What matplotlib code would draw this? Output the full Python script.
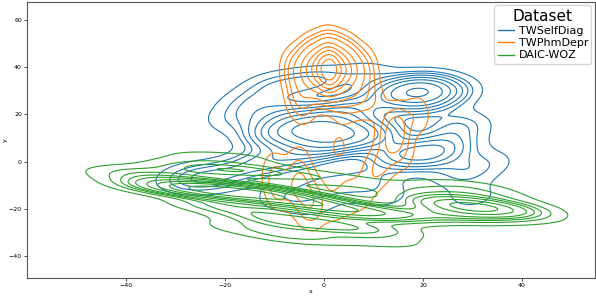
import matplotlib
matplotlib.use('Agg')
import matplotlib.pyplot as plt
import numpy as np
import pandas as pd
import seaborn as sns

# hand-placed sample points (x, y) and weights
selfdiag_x = [-10, -4, 3, 9, 0, 0, -8, 6,
              14, 19, 24, 19,
              15, 21, 25, 27, 28, 30, 33,
              -15, -10, -2, 8, -18,
              -28, -23, -17, -12, -6,
              -8, 0, 8, 12, -2]
selfdiag_y = [12, 13, 12, 11, 7, 18, 20, 22,
              29, 31, 29, 25,
              3, 3, 7, 15, -5, -15, 0,
              25, 32, 34, 37, 18,
              -7, -7, -4, 0, 2,
              -15, -10, -8, -15, -20]
selfdiag_w = [1.5, 3, 3, 2, 1.5, 1.5, 1, 1.2,
              1.2, 2, 1.2, 1,
              1.2, 1.5, 0.8, 0.8, 0.6, 0.4, 0.4,
              0.6, 0.7, 0.8, 0.5, 0.5,
              0.6, 0.8, 0.6, 0.8, 0.8,
              0.5, 0.6, 0.6, 0.4, 0.3]

phm_x = [1, -3, 5, 1, 1, -2, 4, -2, 4, -6, 8, -5, 7,
         15, 19, 14, 12, 8,
         -5, -9, -2, -4, 2, -10,
         -4, 4, 10, 13, 16, 10, 5, -2, -10, -5, 3]
phm_y = [39, 39, 39, 45, 33, 43, 43, 35, 35, 39, 39, 28, 28,
         16, 20, 8, 0, -14,
         -10, -13, -14, -20, -20, -2,
         24, 24, 26, 12, 4, -5, -15, -22, -8, 0, 6]
phm_w = [5, 1.2, 1.2, 1, 1, 0.8, 0.8, 0.8, 0.8, 0.5, 0.5, 0.4, 0.4,
         0.45, 0.25, 0.25, 0.25, 0.15,
         0.5, 0.25, 0.25, 0.2, 0.15, 0.15,
         0.22, 0.22, 0.22, 0.22, 0.2, 0.2, 0.2, 0.18, 0.18, 0.2, 0.15]

daic_x = [-32, -27, -22, -17, -12, -7, -2, 3, 8, 13,
          -20, -10, 0, 10, -5, 12, -15,
          -35, -25, -15, -5, 5, -25, -40, -15,
          25, 30, 34, 28, 38, 20, 20, 32, 40, 28]
daic_y = [-11, -11, -12, -13, -14, -16, -18, -20, -22, -23,
          -19, -24, -27, -29, -32, -34, -28,
          -5, -3, -4, -6, -8, 2, -6, 2,
          -17, -19, -21, -23, -19, -12, -22, -14, -24, -10]
daic_w = [1, 2.5, 3, 3, 2.5, 2, 1.8, 1.5, 1.2, 0.8,
          1.2, 1.3, 1.2, 0.8, 0.8, 0.5, 0.6,
          0.8, 1.0, 1.0, 0.5, 0.4, 0.4, 0.4, 0.3,
          1.2, 2.5, 1.2, 1, 0.5, 0.5, 0.6, 0.6, 0.2, 0.5]

names = ['TWSelfDiag', 'TWPhmDepr', 'DAIC-WOZ']
colors = ['#1f77b4', '#ff7f0e', '#2ca02c']
bw = [0.55, 0.45, 0.6]

sets = [
    pd.DataFrame({'x': selfdiag_x, 'y': selfdiag_y, 'w': selfdiag_w}),
    pd.DataFrame({'x': phm_x, 'y': phm_y, 'w': phm_w}),
    pd.DataFrame({'x': daic_x, 'y': daic_y, 'w': daic_w}),
]

fig = plt.figure(figsize=(5.96, 2.96), dpi=100)
ax = fig.add_axes([0.045, 0.061, 0.953, 0.932])
for d, c, b in zip(sets, colors, bw):
    sns.kdeplot(data=d, x='x', y='y', weights='w', color=c,
                bw_adjust=b, linewidths=0.8, ax=ax)

ax.set_xlim(-60, 54.7)
ax.set_ylim(-49.3, 67.6)
ax.set_xticks([-40, -20, 0, 20, 40])
ax.set_yticks([-40, -20, 0, 20, 40, 60])
ax.tick_params(labelsize=4.5, length=2, width=0.5, pad=1.5)
ax.set_xlabel('x', fontsize=4.5, labelpad=1)
ax.set_ylabel('y', fontsize=4.5, labelpad=1)
for s in ax.spines.values():
    s.set_color('#555555')
    s.set_linewidth(0.8)

handles = [plt.Line2D([], [], color=c, lw=1.0) for c in colors]
ax.legend(handles, names, title='Dataset', loc='upper right', fontsize=8, title_fontsize=11,
          borderaxespad=0.3, handlelength=1.5, handletextpad=0.4, borderpad=0.3,
          labelspacing=0.2)

fig.savefig('out.png', dpi=100)
